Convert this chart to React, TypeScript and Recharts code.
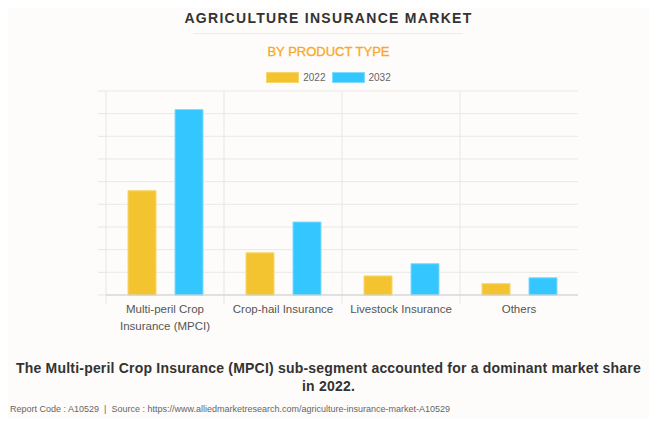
import React from "react";
import {
  BarChart,
  Bar,
  XAxis,
  YAxis,
  CartesianGrid,
  usePlotArea,
} from "recharts";

// market size by product type (USD billion)
const categories = [
  "Multi-peril Crop Insurance (MPCI)",
  "Crop-hail Insurance",
  "Livestock Insurance",
  "Others",
];
const tickLines = [
  ["Multi-peril Crop", "Insurance (MPCI)"],
  ["Crop-hail Insurance"],
  ["Livestock Insurance"],
  ["Others"],
];
const values2022 = [23.0, 9.3, 4.2, 2.5];
const values2032 = [40.9, 16.1, 6.9, 3.8];
const yTicks = [0, 5, 10, 15, 20, 25, 30, 35, 40, 45];

const series = [
  { key: "y2022", name: "2022", color: "#f4c430", border: "#f8d66c" },
  { key: "y2032", name: "2032", color: "#33c6ff", border: "#7fdcff" },
];

const data = categories.map((name, i) => ({
  name,
  y2022: values2022[i],
  y2032: values2032[i],
}));

const sans = "'Liberation Sans', Arial, sans-serif";

const CategoryTick = (props: any) => {
  const { x, y, index } = props;
  const lines = tickLines[index] || [];
  return (
    <text x={x} y={y} textAnchor="middle" fill="#555" fontSize={11.5} fontFamily={sans}>
      {lines.map((l, i) => (
        <tspan key={i} x={x} dy={i === 0 ? 16 : 17}>
          {l}
        </tspan>
      ))}
    </text>
  );
};

// vertical grid at category boundaries, running a little below the axis
const BoundaryLines = () => {
  const area = usePlotArea();
  if (!area) return null;
  const step = area.width / categories.length;
  return (
    <g>
      {categories.map((_, i) => (
        <line
          key={i}
          x1={area.x + i * step}
          x2={area.x + i * step}
          y1={area.y}
          y2={area.y + area.height + 9}
          stroke="#e6e6e6"
          strokeWidth={1}
        />
      ))}
    </g>
  );
};

const App: React.FC = () => {
  return (
    <div
      style={{
        position: "relative",
        width: 657,
        height: 426,
        margin: -8,
        background: "#fdfcfa",
        boxShadow: "inset 0 0 0 1px #e2e2e2",
        fontFamily: sans,
        overflow: "hidden",
      }}
    >
      <div
        style={{
          position: "absolute",
          top: 10,
          left: 0,
          width: 657,
          textAlign: "center",
          fontSize: 14,
          fontWeight: 700,
          letterSpacing: 1.3,
          color: "#333",
        }}
      >
        AGRICULTURE INSURANCE MARKET
      </div>
      <div
        style={{
          position: "absolute",
          top: 33,
          left: 193,
          width: 270,
          height: 1,
          background: "#ececec",
        }}
      />
      <div
        style={{
          position: "absolute",
          top: 44,
          left: 0,
          width: 657,
          textAlign: "center",
          fontSize: 13,
          color: "#f9a825",
          WebkitTextStroke: "0.3px #f9a825",
        }}
      >
        BY PRODUCT TYPE
      </div>
      <div
        style={{
          position: "absolute",
          top: 72,
          left: 0,
          width: 657,
          display: "flex",
          justifyContent: "center",
          alignItems: "center",
          fontSize: 10,
          color: "#666",
        }}
      >
        {series.map((s) => (
          <div key={s.key} style={{ display: "flex", alignItems: "center", margin: "0 3px" }}>
            <span
              style={{
                display: "inline-block",
                width: 31,
                height: 9,
                background: s.color,
                border: `1px solid ${s.border}`,
                marginRight: 4,
              }}
            />
            {s.name}
          </div>
        ))}
      </div>

      <div style={{ position: "absolute", top: 0, left: 0 }}>
        <BarChart
          width={657}
          height={426}
          data={data}
          margin={{ top: 91, right: 79, bottom: 91, left: 98 }}
          barSize={28}
          barGap={19}
        >
          <CartesianGrid vertical={false} stroke="#e8e8e8" />
          <BoundaryLines />
          <YAxis
            width={8}
            domain={[0, 45]}
            ticks={yTicks}
            interval={0}
            tickSize={8}
            tickFormatter={() => ""}
            axisLine={false}
            tickLine={{ stroke: "#e6e6e6" }}
          />
          <XAxis
            dataKey="name"
            height={40}
            interval={0}
            tickSize={0}
            tickLine={false}
            axisLine={{ stroke: "#cfcfcf" }}
            tick={<CategoryTick />}
          />
          {series.map((s) => (
            <Bar
              key={s.key}
              dataKey={s.key}
              name={s.name}
              fill={s.color}
              stroke={s.border}
              strokeWidth={1}
              isAnimationActive={false}
            />
          ))}
        </BarChart>
      </div>

      <div
        style={{
          position: "absolute",
          top: 359,
          left: 10,
          width: 637,
          textAlign: "center",
          fontSize: 14,
          fontWeight: 700,
          lineHeight: "18px",
          letterSpacing: 0.2,
          color: "#333",
        }}
      >
        The Multi-peril Crop Insurance (MPCI) sub-segment accounted for a dominant market share in 2022.
      </div>
      <div
        style={{
          position: "absolute",
          top: 404,
          left: 10,
          fontSize: 9,
          color: "#666",
          whiteSpace: "nowrap",
        }}
      >
        Report Code : A10529&nbsp; | &nbsp;Source : https://www.alliedmarketresearch.com/agriculture-insurance-market-A10529
      </div>
    </div>
  );
};

export default App;
